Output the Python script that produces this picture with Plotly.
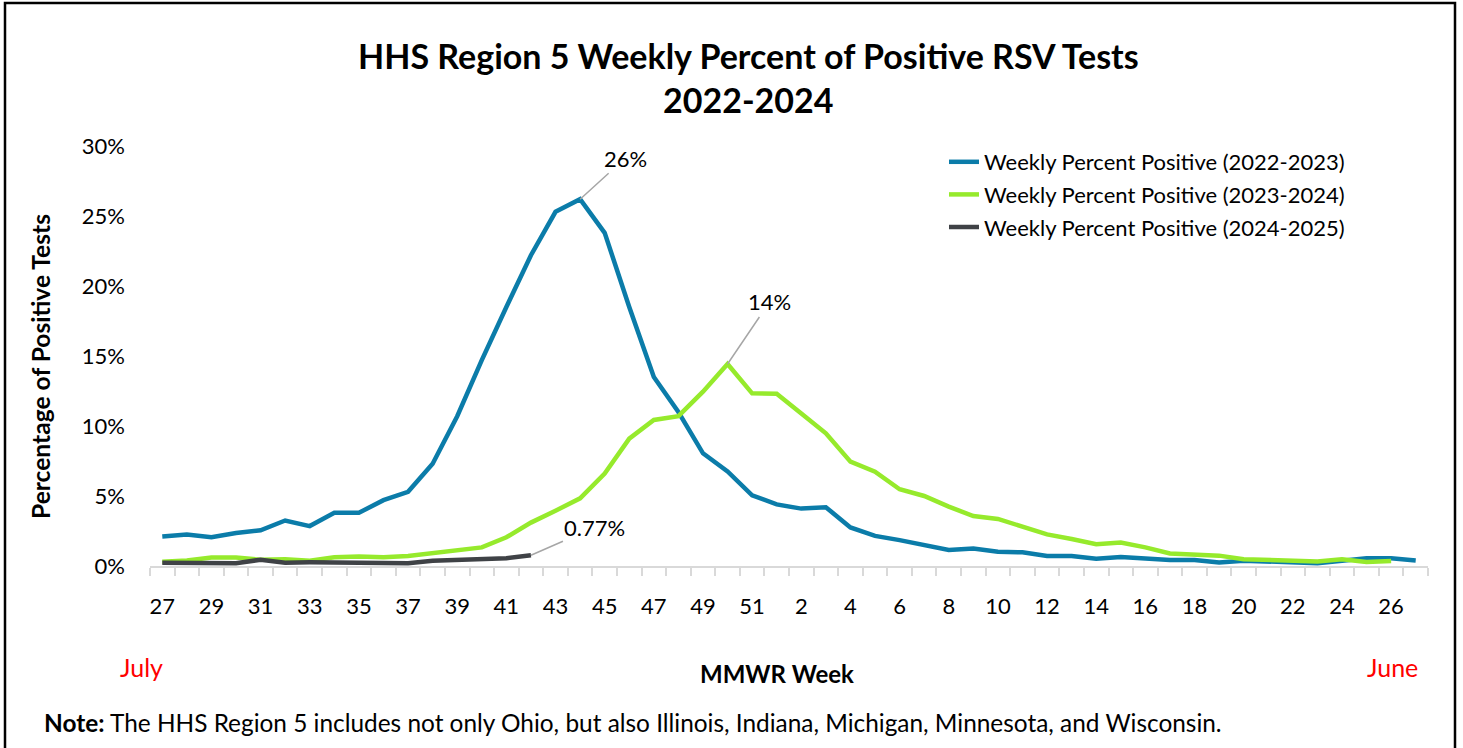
import plotly.graph_objects as go

# ---- data ----
week_labels = [str(w) for w in range(27, 53)] + [str(w) for w in range(2, 28)]  # 52 categories
season_2022_2023 = [2.1, 2.25, 2.05, 2.35, 2.55, 3.25, 2.85, 3.8, 3.8, 4.7, 5.3, 7.3, 10.7, 14.7,
                    18.5, 22.2, 25.3, 26.2, 23.8, 18.5, 13.5, 11.0, 8.05, 6.75, 5.05, 4.4, 4.1, 4.2,
                    2.75, 2.15, 1.85, 1.5, 1.15, 1.25, 1.02, 0.98, 0.72, 0.72, 0.52, 0.65, 0.52, 0.42,
                    0.42, 0.25, 0.38, 0.33, 0.3, 0.2, 0.38, 0.55, 0.55, 0.4]
season_2023_2024 = [0.3, 0.4, 0.6, 0.6, 0.45, 0.48, 0.38, 0.62, 0.67, 0.62, 0.72, 0.9, 1.07, 1.33,
                    2.05, 3.1, 3.95, 4.83, 6.6, 9.1, 10.43, 10.7, 12.45, 14.43, 12.33, 12.3, 10.9,
                    9.48, 7.45, 6.74, 5.48, 5.0, 4.24, 3.57, 3.36, 2.78, 2.26, 1.93, 1.55, 1.67, 1.33,
                    0.9, 0.86, 0.74, 0.48, 0.43, 0.38, 0.33, 0.48, 0.29, 0.36]
season_2024_2025 = [0.24, 0.2, 0.24, 0.2, 0.45, 0.24, 0.26, 0.26, 0.26, 0.22, 0.2, 0.38, 0.42, 0.43,
                    0.55, 0.77]
series_names = ["Weekly Percent Positive (2022-2023)",
                "Weekly Percent Positive (2023-2024)",
                "Weekly Percent Positive (2024-2025)"]
y_ticks = [0, 5, 10, 15, 20, 25, 30]

colors = ["#0B7CA9", "#96EA2C", "#3F4246"]
FONT = "Lato"

# plot-area pixel geometry helpers (layout placement only)
L, R, T, B = 150, 1428, 146, 566
def px(x):
    return (x - L) / (R - L)
def py(y):
    return (B - y) / (B - T)

fig = go.Figure()
for i, (name, vals) in enumerate(zip(series_names, [season_2022_2023, season_2023_2024, season_2024_2025])):
    fig.add_trace(go.Scatter(
        x=list(range(len(vals))), y=vals, mode="lines", name=name,
        line=dict(color=colors[i], width=4.5),
        legendgroup=f"g{i}", hoverinfo="skip"))

tickvals = list(range(0, len(week_labels), 2))
fig.update_xaxes(
    range=[-0.5, len(week_labels) - 0.5], tickmode="array", tickvals=tickvals,
    ticktext=[week_labels[i] for i in tickvals], ticks="", ticklabelstandoff=20,
    showline=True, linecolor="#D9D9D9", linewidth=2, showgrid=False, zeroline=False,
    tickfont=dict(family=FONT, size=22, color="#000"),
    minor=dict(ticks="outside", tickmode="linear", tick0=-0.5, dtick=1, ticklen=8,
               tickcolor="#D9D9D9", tickwidth=2, showgrid=False))
fig.update_yaxes(
    range=[0, 30], tickvals=y_ticks, ticktext=[f"{v}%" for v in y_ticks],
    showgrid=False, zeroline=False, showline=False, ticks="", ticklabelstandoff=24,
    tickfont=dict(family=FONT, size=22, color="#000"))

annos = []
# title
annos.append(dict(text="<b>HHS Region 5 Weekly Percent of Positive RSV Tests</b>", x=px(748), y=py(55),
                  font=dict(size=34)))
annos.append(dict(text="<b>2022-2024</b>", x=px(748), y=py(100), font=dict(size=34)))
annos.append(dict(text="<b>Percentage of Positive Tests</b>", x=px(40), y=py(367), textangle=-90,
                  font=dict(size=24.6)))
annos.append(dict(text="<b>MMWR Week</b>", x=px(777), y=py(673), font=dict(size=24)))
annos.append(dict(text="July", x=px(141), y=py(667), font=dict(size=25, color="#FF0000")))
annos.append(dict(text="June", x=px(1392), y=py(667), font=dict(size=25, color="#FF0000")))
annos.append(dict(text="<b>Note:</b> The HHS Region 5 includes not only Ohio, but also Illinois, Indiana, "
                       "Michigan, Minnesota, and Wisconsin.", x=px(42), y=py(722), xanchor="left",
                  font=dict(size=24.4)))
for a in annos:
    a.setdefault("xanchor", "center")
    a.update(xref="paper", yref="paper", yanchor="middle", showarrow=False)
    a["font"] = dict(family=FONT, color=a["font"].get("color", "#000"), size=a["font"]["size"])
    fig.add_annotation(**a)

# data labels with leader lines
def label(series, idx, text, ax, ay):
    fig.add_annotation(x=idx, y=series[idx], text=text, showarrow=True, arrowhead=0,
                       arrowwidth=1.5, arrowcolor="#A6A6A6", ax=ax, ay=ay,
                       font=dict(family=FONT, size=22, color="#000"))

peak1 = season_2022_2023.index(max(season_2022_2023))
peak2 = season_2023_2024.index(max(season_2023_2024))
last3 = len(season_2024_2025) - 1
label(season_2022_2023, peak1, "26%", 45, -41)
label(season_2023_2024, peak2, "14%", 42, -62)
label(season_2024_2025, last3, "0.77%", 64, -28)

# outer frame
fig.add_shape(type="rect", xref="paper", yref="paper", x0=px(5), x1=px(1455), y0=py(760), y1=py(3),
              line=dict(color="#000", width=2.5), fillcolor="rgba(0,0,0,0)", layer="below")

fig.update_layout(
    width=1463, height=748, paper_bgcolor="white", plot_bgcolor="white",
    margin=dict(l=L, r=1463 - R, t=T, b=748 - B),
    showlegend=True,
    legend=dict(x=px(944), y=py(141), xanchor="left", yanchor="top", bgcolor="rgba(0,0,0,0)",
                font=dict(family=FONT, size=22, color="#000"), tracegroupgap=1,
                traceorder="grouped", itemwidth=30),
)

fig.write_html("out.html", config={"displayModeBar": False},
               post_script="document.body.style.margin='0';")
